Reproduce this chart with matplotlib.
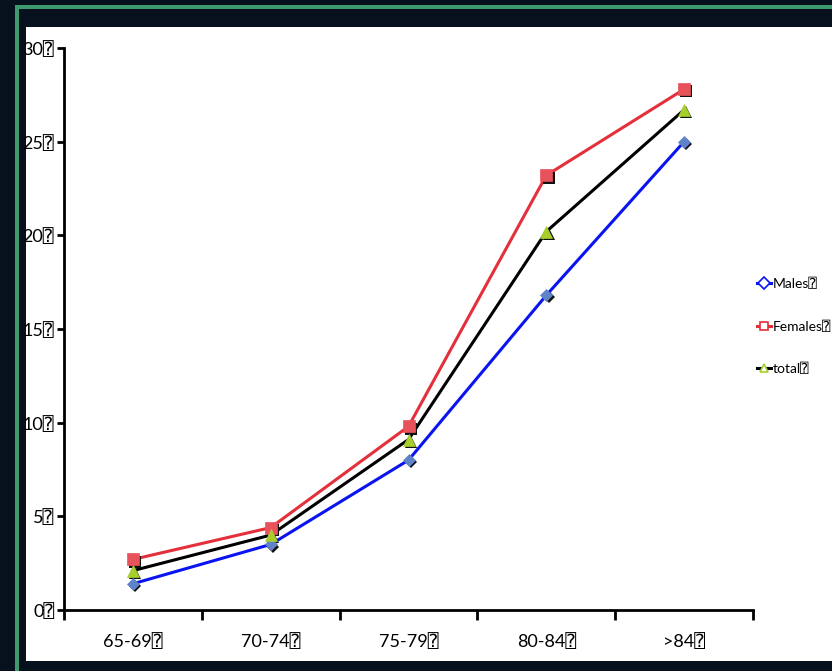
import matplotlib
matplotlib.use("Agg")
import matplotlib.pyplot as plt
import matplotlib.transforms as mtransforms
from matplotlib.patches import Rectangle

# Prevalence by age group (%)
categories = ["65-69", "70-74", "75-79", "80-84", ">84"]
males = [1.4, 3.5, 8.0, 16.8, 25.0]
females = [2.7, 4.4, 9.8, 23.2, 27.8]
total = [2.1, 4.0, 9.1, 20.2, 26.7]
y_ticks = [0, 5, 10, 15, 20, 25, 30]
series_names = ["Males", "Females", "total"]
BOX = "\u2370"

W, H = 832, 671
fig = plt.figure(figsize=(W / 100, H / 100), dpi=100)
fig.patch.set_facecolor("#07111d")

# slide frame: green border and white panel
for rect in [
    Rectangle((15 / W, 0), 1, 1 - 5 / H, facecolor="#3f9a70"),
    Rectangle((19 / W, 0), 1, 1 - 9 / H, facecolor="#07111d"),
    Rectangle((26 / W, (H - 661) / H), 1, (661 - 27) / H, facecolor="white"),
]:
    rect.set_transform(fig.transFigure)
    rect.set_edgecolor("none")
    rect.set_zorder(-10)
    fig.patches.append(rect)

plt.rcParams["font.family"] = ["Lato", "DejaVu Sans Mono", "DejaVu Sans"]

x0, x1 = 64, 753
y0, y1 = 610, 48
ax = fig.add_axes([x0 / W, (H - y0) / H, (x1 - x0) / W, (y0 - y1) / H])
ax.set_facecolor("none")
ax.set_zorder(5)
ax.set_xlim(-0.5, len(categories) - 0.5)
ax.set_ylim(0, 30)

xs = list(range(len(categories)))
styles = [
    (males, "#0a14f0", "D", "#5f82c8", 6.5),
    (females, "#e3303a", "s", "#e8525a", 8),
    (total, "#000000", "^", "#a6cf2c", 8.5),
]
shadow = mtransforms.offset_copy(ax.transData, fig=fig, x=2.2, y=-2.2, units="dots")
handles = []
for (vals, lc, mk, mc, ms), name in zip(styles, series_names):
    ax.plot(xs, vals, color=lc, lw=2.2, zorder=3)
    ax.plot(xs, vals, ls="none", marker=mk, ms=ms, color="#111111",
            markeredgewidth=0, transform=shadow, zorder=4)
    ax.plot(xs, vals, ls="none", marker=mk, ms=ms, color=mc,
            markeredgecolor=mc, markeredgewidth=0.5, zorder=5)
    h, = ax.plot([], [], color=lc, lw=2.2, marker=mk, ms=6,
                 markerfacecolor="white",
                 markeredgecolor=lc if mk != "^" else "#a6cf2c",
                 markeredgewidth=1.2)
    handles.append(h)

for s in ["top", "right"]:
    ax.spines[s].set_visible(False)
for s in ["left", "bottom"]:
    ax.spines[s].set_linewidth(2)
    ax.spines[s].set_color("black")

ax.set_yticks(y_ticks)
ax.set_yticklabels([f"{v}{BOX}" for v in y_ticks], fontsize=13)
ax.tick_params(axis="y", length=5, width=2, pad=2, direction="out")

ax.set_xticks([i + 0.5 for i in range(-1, len(categories))])
ax.set_xticklabels([])
ax.tick_params(axis="x", length=7, width=2, direction="out")
for i, c in enumerate(categories):
    ax.text(i, -1.25, f"{c}{BOX}", ha="center", va="top", fontsize=13)

leg = fig.legend(handles, [f"{n}{BOX}" for n in series_names],
                 loc="upper left", bbox_to_anchor=(757 / W, 1 - 278 / H),
                 frameon=False, fontsize=10, handlelength=1.0, handletextpad=0.1,
                 labelspacing=2.15, borderaxespad=0, borderpad=0)

fig.savefig("out.png", dpi=100)
